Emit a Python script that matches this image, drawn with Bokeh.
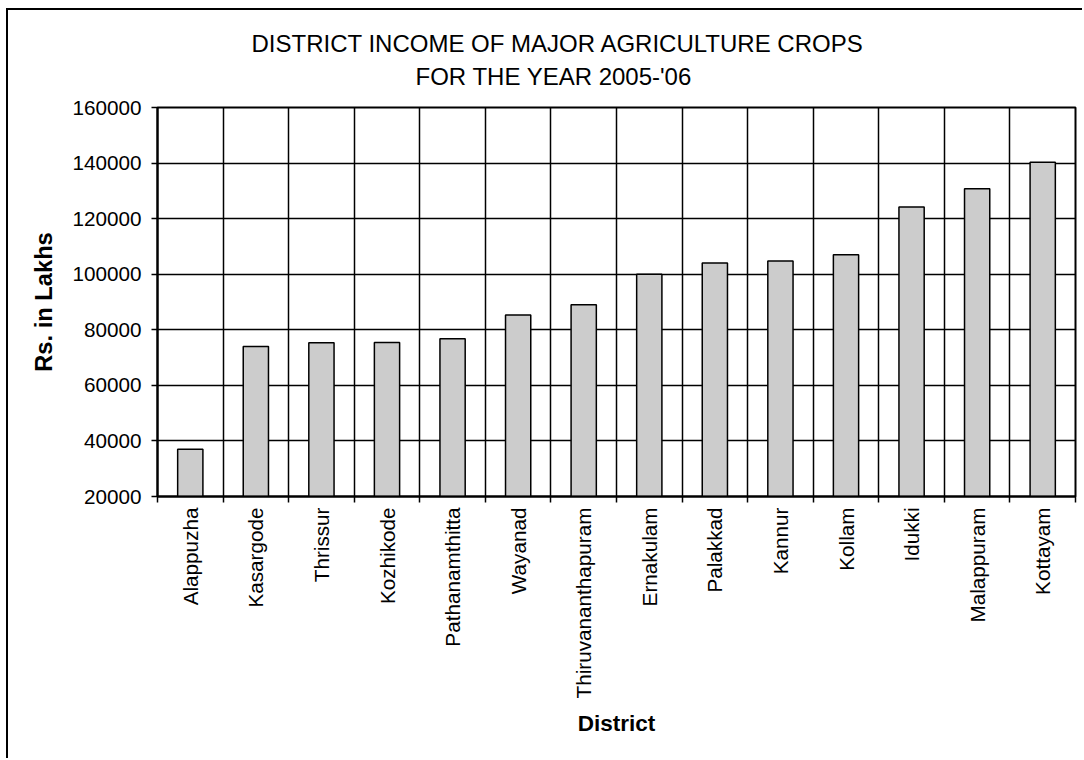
import numpy as np
from bokeh.plotting import figure
from bokeh.models import Range1d, FixedTicker, NumeralTickFormatter, Title
from bokeh.embed import file_html
from bokeh.resources import INLINE

# ---- data ----
districts = ["Alappuzha", "Kasargode", "Thrissur", "Kozhikode", "Pathanamthitta",
             "Wayanad", "Thiruvananthapuram", "Ernakulam", "Palakkad", "Kannur",
             "Kollam", "Idukki", "Malappuram", "Kottayam"]
income = [37000, 74000, 75300, 75400, 76800, 85300, 89000, 100000, 104000,
          104800, 107000, 124200, 130800, 140300]
y_ticks = [20000, 40000, 60000, 80000, 100000, 120000, 140000, 160000]
title_lines = ["DISTRICT INCOME OF MAJOR AGRICULTURE CROPS", "FOR THE YEAR 2005-'06"]
x_title = "District"
y_title = "Rs. in Lakhs"

FONT = "Liberation Sans"
n = len(districts)
xs = list(range(n))

p = figure(width=1076, height=750,
           x_range=Range1d(-0.5, n - 0.5), y_range=Range1d(y_ticks[0], y_ticks[-1]),
           output_backend="svg", toolbar_location=None,
           min_border_left=149, min_border_right=9,
           min_border_top=97, min_border_bottom=264)
p.styles = {"margin-left": "6px", "margin-top": "8px",
            "border-left": "2px solid black", "border-top": "2px solid black"}
p.background_fill_color = "white"
p.border_fill_color = "white"
p.outline_line_color = "black"
p.outline_line_width = 2

p.vbar(x=xs, top=income, bottom=0, width=0.385,
       fill_color="#CCCCCC", line_color="black", line_width=1.5)

# x axis
p.xaxis.ticker = FixedTicker(ticks=xs, minor_ticks=[i - 0.5 for i in range(n + 1)])
p.xaxis.major_label_overrides = {i: d for i, d in enumerate(districts)}
p.xaxis.major_tick_line_color = None
p.xaxis.major_tick_out = 6
p.xaxis.major_tick_in = 0
p.xaxis.minor_tick_out = 6
p.xaxis.minor_tick_in = 0
p.xaxis.minor_tick_line_color = "black"
p.xaxis.minor_tick_line_width = 1.5
p.xaxis.major_label_orientation = np.pi / 2
p.xaxis.major_label_standoff = 5
p.xaxis.axis_label = x_title
p.xaxis.axis_label_standoff = 10

# y axis
p.yaxis.ticker = FixedTicker(ticks=y_ticks)
p.yaxis.formatter = NumeralTickFormatter(format="0")
p.yaxis.major_tick_out = 6
p.yaxis.major_tick_in = 0
p.yaxis.minor_tick_line_color = None
p.yaxis.major_label_standoff = 10
p.yaxis.axis_label = y_title
p.yaxis.axis_label_standoff = 12

for ax in (p.xaxis, p.yaxis):
    ax.axis_line_color = "black"
    ax.axis_line_width = 2
    ax.major_tick_line_width = 1.5
    ax.major_label_text_font = FONT
    ax.major_label_text_font_size = "20.7px"
    ax.major_label_text_color = "black"
    ax.axis_label_text_font = FONT
    ax.axis_label_text_font_style = "bold"
    ax.axis_label_text_color = "black"
p.xaxis.axis_label_text_font_size = "22.5px"
p.yaxis.axis_label_text_font_size = "23.7px"

# grids
p.xgrid.ticker = FixedTicker(ticks=[i + 0.5 for i in range(n - 1)])
p.ygrid.ticker = FixedTicker(ticks=y_ticks)
for g in (p.xgrid, p.ygrid):
    g.grid_line_color = "black"
    g.grid_line_width = 1.5

# title: two lines, second added first (closest to the plot)
p.add_layout(Title(text=title_lines[1], align="left", offset=258, standoff=36,
                   text_font=FONT, text_font_size="24px", text_font_style="normal",
                   text_color="black"), "above")
p.add_layout(Title(text=title_lines[0], align="left", offset=94, standoff=-28,
                   text_font=FONT, text_font_size="24px", text_font_style="normal",
                   text_color="black"), "above")

open("out.html", "w").write(file_html(p, INLINE))
